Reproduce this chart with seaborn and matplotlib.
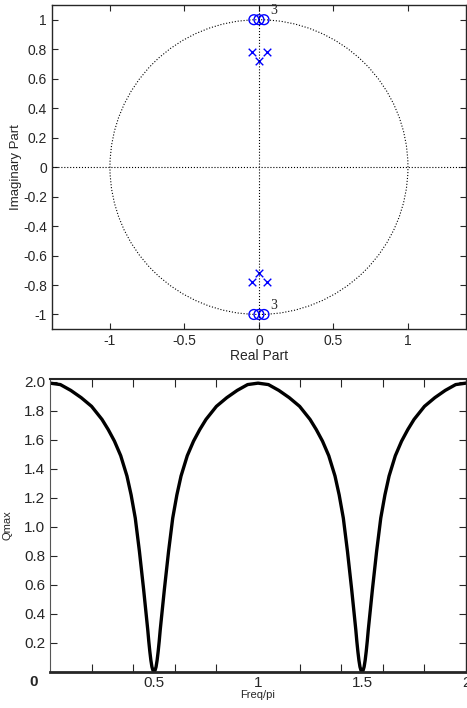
import numpy as np
import matplotlib
matplotlib.use('Agg')
import matplotlib.pyplot as plt
from matplotlib.patches import Circle
import pandas as pd
import seaborn as sns

# zeros / poles
zeros_re = [-0.034, 0.0, 0.034, -0.034, 0.0, 0.034]
zeros_im = [1.0, 1.0, 1.0, -1.0, -1.0, -1.0]
poles_re = [-0.047, 0.054, 0.0, -0.047, 0.054, 0.0]
poles_im = [0.78, 0.78, 0.72, -0.78, -0.78, -0.72]

# Qmax curve
freq = [0.00, 0.05, 0.10, 0.15, 0.20, 0.25, 0.28, 0.31, 0.34, 0.37, 0.39, 0.41, 0.43, 0.44,
        0.45, 0.46, 0.47, 0.475, 0.48, 0.485, 0.49, 0.495, 0.50,
        0.505, 0.51, 0.515, 0.52, 0.525, 0.53, 0.54, 0.55, 0.56, 0.57, 0.59,
        0.61, 0.63, 0.66, 0.69, 0.72, 0.75, 0.80, 0.85, 0.90, 0.95, 1.00,
        1.05, 1.10, 1.15, 1.20, 1.25, 1.28, 1.31, 1.34, 1.37, 1.39, 1.41, 1.43, 1.44,
        1.45, 1.46, 1.47, 1.475, 1.48, 1.485, 1.49, 1.495, 1.50,
        1.505, 1.51, 1.515, 1.52, 1.525, 1.53, 1.54, 1.55, 1.56, 1.57, 1.59,
        1.61, 1.63, 1.66, 1.69, 1.72, 1.75, 1.80, 1.85, 1.90, 1.95, 2.00]
qmax = [1.99, 1.98, 1.94, 1.89, 1.83, 1.74, 1.67, 1.59, 1.49, 1.35, 1.22, 1.06, 0.83, 0.70,
        0.57, 0.43, 0.29, 0.21, 0.14, 0.08, 0.035, 0.01, 0.00,
        0.01, 0.035, 0.08, 0.14, 0.21, 0.29, 0.43, 0.57, 0.70, 0.83, 1.06,
        1.22, 1.35, 1.49, 1.59, 1.67, 1.74, 1.83, 1.89, 1.94, 1.98, 1.99,
        1.98, 1.94, 1.89, 1.83, 1.74, 1.67, 1.59, 1.49, 1.35, 1.22, 1.06, 0.83, 0.70,
        0.57, 0.43, 0.29, 0.21, 0.14, 0.08, 0.035, 0.01, 0.00,
        0.01, 0.035, 0.08, 0.14, 0.21, 0.29, 0.43, 0.57, 0.70, 0.83, 1.06,
        1.22, 1.35, 1.49, 1.59, 1.67, 1.74, 1.83, 1.89, 1.94, 1.98, 1.99]

x_labels = ['0.5', '1', '1.5', '2']
x_label_pos = [0.5, 1.0, 1.5, 2.0]

sns.set_style('ticks')
plt.rcParams['font.family'] = ['Liberation Sans', 'DejaVu Sans']

fig = plt.figure(figsize=(4.67, 7.08), dpi=100)
ax1 = fig.add_axes([0.111, 0.535, 0.887, 0.458])
ax2 = fig.add_axes([0.107, 0.051, 0.891, 0.414])

# ---- pole-zero plot
ax1.add_patch(Circle((0, 0), 1, fill=False, ls=':', lw=0.8, color='black'))
ax1.axhline(0, ls=':', lw=0.8, color='black')
ax1.axvline(0, ls=':', lw=0.8, color='black')
zdf = pd.DataFrame({'re': zeros_re, 'im': zeros_im})
pdf = pd.DataFrame({'re': poles_re, 'im': poles_im})
sns.scatterplot(data=zdf, x='re', y='im', ax=ax1, marker='o', s=50,
                facecolors='none', edgecolor='#0000ff', linewidth=1.0)
sns.scatterplot(data=pdf, x='re', y='im', ax=ax1, marker='x', s=30,
                color='#0000ff', linewidth=1.0)
ax1.text(0.075, 1.02, '3', fontsize=10, family='Liberation Serif', ha='left', va='bottom')
ax1.text(0.075, -0.98, '3', fontsize=10, family='Liberation Serif', ha='left', va='bottom')
ax1.set_xlim(-1.39, 1.39)
ax1.set_ylim(-1.1, 1.1)
ax1.set_xticks([-1, -0.5, 0, 0.5, 1])
ax1.set_xticklabels(['-1', '-0.5', '0', '0.5', '1'])
yt = [-1, -0.8, -0.6, -0.4, -0.2, 0, 0.2, 0.4, 0.6, 0.8, 1]
ax1.set_yticks(yt)
ax1.set_yticklabels(['-1', '-0.8', '-0.6', '-0.4', '-0.2', '0', '0.2', '0.4', '0.6', '0.8', '1'])
ax1.tick_params(direction='in', top=True, right=True, labelsize=10, length=4, width=0.8)
ax1.set_xlabel('Real Part', fontsize=10, labelpad=1)
ax1.set_ylabel('Imaginary Part', fontsize=9.5, labelpad=1)
for s in ax1.spines.values():
    s.set_linewidth(1.0)

# ---- Qmax curve
qdf = pd.DataFrame({'freq': freq, 'qmax': qmax})
sns.lineplot(data=qdf, x='freq', y='qmax', ax=ax2, color='black', linewidth=2.4)
ax2.set_xlim(0, 2)
ax2.set_ylim(0, 2.02)
ax2.set_xticks(x_label_pos)
ax2.set_xticklabels(x_labels)
ax2.set_xticks([0.2, 0.4, 0.6, 0.8, 1.0, 1.2, 1.4, 1.6, 1.8], minor=True)
ax2.set_yticks([0.2, 0.4, 0.6, 0.8, 1.0, 1.2, 1.4, 1.6, 1.8, 2.0])
ax2.set_yticklabels(['0.2', '0.4', '0.6', '0.8', '1.0', '1.2', '1.4', '1.6', '1.8', '2.0'])
ax2.tick_params(axis='x', which='major', length=0, labelsize=11, pad=3)
ax2.tick_params(axis='x', which='minor', direction='in', top=True, bottom=True, length=6, width=0.8)
ax2.tick_params(axis='y', direction='in', left=True, right=True, labelsize=11, length=5, width=0.8)
ax2.text(-0.08, -0.07, '0', fontsize=11, fontweight='bold', ha='center', va='center')
ax2.set_xlabel('Freq/pi', fontsize=8, labelpad=0)
ax2.set_ylabel('Qmax', fontsize=8, labelpad=8)
ax2.spines['left'].set_color('#555555')
ax2.spines['bottom'].set_linewidth(2.0)
ax2.spines['top'].set_linewidth(1.5)
ax2.spines['right'].set_linewidth(1.0)

fig.savefig('out.png', dpi=100)
